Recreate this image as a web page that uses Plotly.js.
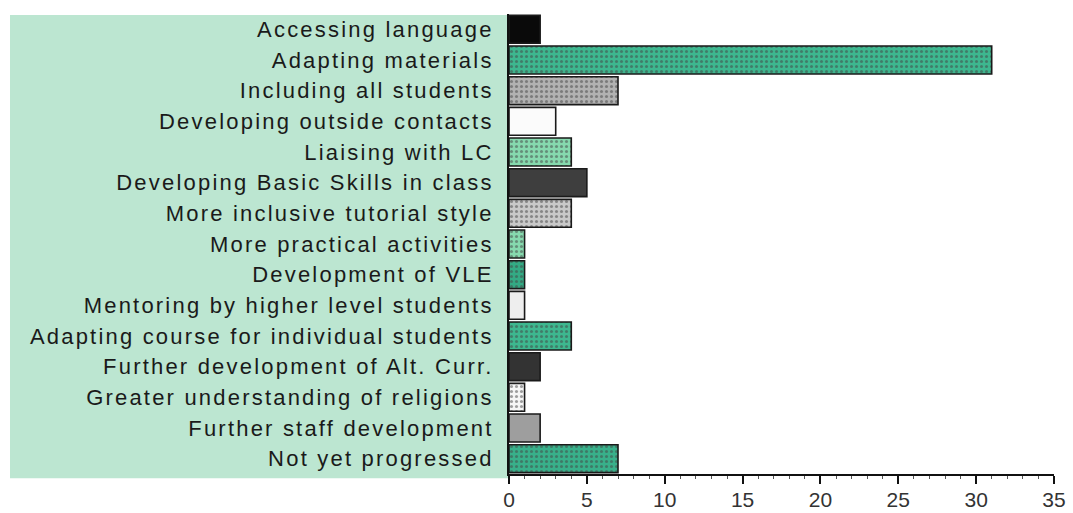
<!DOCTYPE html>
<html>
<head>
<meta charset="utf-8">
<script src="https://cdn.plot.ly/plotly-3.0.1.min.js"></script>
<style>
  html, body { margin: 0; padding: 0; background: #fff; }
  #chart { width: 1073px; height: 513px; }
  /* widen the category labels a little */
  .yaxislayer-above .ytick text { letter-spacing: 2.2px; }
</style>
</head>
<body>
<div id="chart"></div>
<script>
// Areas of progress, listed top to bottom
const categories = [
  "Accessing language",
  "Adapting materials",
  "Including all students",
  "Developing outside contacts",
  "Liaising with LC",
  "Developing Basic Skills in class",
  "More inclusive tutorial style",
  "More practical activities",
  "Development of VLE",
  "Mentoring by higher level students",
  "Adapting course for individual students",
  "Further development of Alt. Curr.",
  "Greater understanding of religions",
  "Further staff development",
  "Not yet progressed"
];

// Number of responses for each area
const counts = [2, 31, 7, 3, 4, 5, 4, 1, 1, 1, 4, 2, 1, 2, 7];

// x-axis tick values
const xTicks = [0, 5, 10, 15, 20, 25, 30, 35];

// Fill styling per bar
const fills = ["#0a0a0a", "#3db78f", "#b2b2b2", "#fbfbfb", "#86d9ae", "#3e3e3e", "#c9c9c9",
               "#86d9ae", "#33aa84", "#eeeeee", "#3db78f", "#333333", "#f6f6f6", "#9e9e9e", "#38b08a"];
const dotColors = ["#0a0a0a", "#2f9f80", "#c0c0c0", "#fbfbfb", "#66e6a4", "#303030", "#d6d6d6",
                   "#66e6a4", "#289679", "#ffffff", "#2f9f80", "#333333", "#e2f6ec", "#9e9e9e", "#2f9f80"];
const shapes = ["", ".", ".", "", ".", "", ".", ".", ".", "", ".", "", ".", "", "."];

const trace = {
  type: "bar",
  orientation: "h",
  x: counts,
  y: categories,
  marker: {
    color: fills,
    line: { color: "#1a1a1a", width: 1.6 },
    pattern: { shape: shapes, fgcolor: dotColors, fillmode: "overlay", size: 5, solidity: 0.3 }
  },
  hoverinfo: "x+y"
};

const layout = {
  width: 1073,
  height: 513,
  margin: { l: 509, r: 19, t: 14, b: 39 },
  paper_bgcolor: "#ffffff",
  plot_bgcolor: "#ffffff",
  bargap: 0.09,
  showlegend: false,
  font: { family: "Liberation Sans, Arial, sans-serif", color: "#222" },
  xaxis: {
    range: [0, 35],
    tickvals: xTicks,
    ticktext: xTicks.map(String),
    showgrid: false,
    zeroline: false,
    showline: true,
    linecolor: "#111",
    linewidth: 2,
    ticks: "outside",
    ticklen: 8,
    tickwidth: 2,
    tickcolor: "#111",
    minor: { dtick: 1, ticks: "outside", ticklen: 3, tickwidth: 1, tickcolor: "#555" },
    ticklabelstandoff: -2,
    tickfont: { size: 21, color: "#333" },
    fixedrange: true
  },
  yaxis: {
    autorange: "reversed",
    showgrid: false,
    zeroline: false,
    showline: true,
    linecolor: "#111",
    linewidth: 2,
    ticks: "",
    ticklabelstandoff: 9,
    tickfont: { size: 22, color: "#1a1a1a" },
    fixedrange: true
  },
  shapes: [
    {
      // tinted panel behind the category labels
      type: "rect",
      xref: "paper", yref: "paper",
      x0: -0.9156, x1: 0, y0: -0.009, y1: 0.998,
      fillcolor: "#bce6d1",
      line: { width: 0 },
      layer: "below"
    }
  ]
};

Plotly.newPlot("chart", [trace], layout, { displayModeBar: false, staticPlot: true });
</script>
</body>
</html>
